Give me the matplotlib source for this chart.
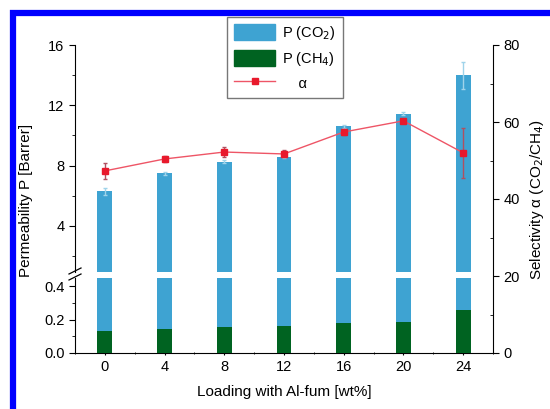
import matplotlib.pyplot as plt
import matplotlib.patches as mpatches
from matplotlib.lines import Line2D
from matplotlib.ticker import MultipleLocator

loading = [0, 4, 8, 12, 16, 20, 24]
p_co2 = [6.3, 7.5, 8.25, 8.6, 10.6, 11.45, 14.0]
p_co2_err = [0.25, 0.1, 0.1, 0.1, 0.1, 0.1, 0.9]
p_ch4 = [0.131, 0.143, 0.155, 0.161, 0.179, 0.185, 0.257]
alpha = [47.3, 50.4, 52.2, 51.7, 57.4, 60.3, 52.0]
alpha_err = [2.0, 0.8, 1.3, 0.9, 0.8, 0.6, 6.5]

blue = '#3ea3d2'
green = '#006321'
red = '#e8192c'

plt.rcParams['font.family'] = ['Liberation Sans', 'DejaVu Sans']
plt.rcParams['font.size'] = 10.5

fig = plt.figure(figsize=(5.5, 4.09), dpi=100)
W, H = 550.0, 409.0

def box(x0, y0, x1, y1):
    return [x0 / W, 1 - y1 / H, (x1 - x0) / W, (y1 - y0) / H]

ax_top = fig.add_axes(box(75, 45, 493, 272))
ax_bot = fig.add_axes(box(75, 278, 493, 353))
ax_r = fig.add_axes(box(75, 45, 493, 353), sharex=ax_bot)
ax_r.patch.set_alpha(0)

bw = 1.0
for ax in (ax_top, ax_bot):
    ax.bar(loading, p_co2, width=bw, color=blue, yerr=p_co2_err,
           error_kw=dict(ecolor='#9fd3ea', capsize=1.5, elinewidth=1), zorder=2)
    ax.bar(loading, p_ch4, width=bw, color=green, zorder=3)
    ax.set_xlim(-2, 26)
    for s in ('top', 'right'):
        ax.spines[s].set_visible(False)

ax_top.set_ylim(0.95, 16)
ax_top.yaxis.set_major_locator(MultipleLocator(4))
ax_top.yaxis.set_minor_locator(MultipleLocator(2))
ax_top.spines['bottom'].set_visible(False)
ax_top.tick_params(axis='x', bottom=False, labelbottom=False, which='both')

ax_bot.set_ylim(0, 0.45)
ax_bot.yaxis.set_minor_locator(MultipleLocator(0.1))
ax_bot.set_yticks([0.0, 0.2, 0.4])
ax_bot.set_yticklabels(['0.0', '0.2', '0.4'])
ax_bot.xaxis.set_major_locator(MultipleLocator(4))
ax_bot.xaxis.set_minor_locator(MultipleLocator(2))
ax_bot.tick_params(axis='x', which='both', direction='inout')
ax_bot.set_xlabel('Loading with Al-fum [wt%]', labelpad=8, fontsize=11)

for ax in (ax_top, ax_bot):
    ax.tick_params(axis='y', which='major', length=4)
    ax.tick_params(axis='y', which='minor', length=2.5)

# selectivity axis
ax_r.errorbar(loading, alpha, yerr=alpha_err, color='#ee5566', lw=1, marker='s',
              ms=5, mfc=red, mec=red, ecolor='#b05060', elinewidth=1,
              capsize=1.5, zorder=5)
ax_r.set_ylim(0, 80)
ax_r.yaxis.set_major_locator(MultipleLocator(20))
ax_r.yaxis.set_minor_locator(MultipleLocator(10))
ax_r.yaxis.tick_right()
ax_r.yaxis.set_label_position('right')
for s in ('top', 'left', 'bottom'):
    ax_r.spines[s].set_visible(False)
ax_r.tick_params(axis='x', which='both', bottom=False, labelbottom=False)
ax_r.tick_params(axis='y', which='major', length=4)
ax_r.tick_params(axis='y', which='minor', length=2.5, direction='in')
ax_r.set_ylabel('Selectivity α (CO$_2$/CH$_4$)', labelpad=6, fontsize=11)

fig.text(26 / W, 1 - 200 / H, 'Permeability P [Barrer]', rotation=90,
         ha='center', va='center', fontsize=11)

# break marks on left axis
for yy in (271, 277):
    fig.add_artist(Line2D([69 / W, 81 / W], [1 - (yy + 3) / H, 1 - (yy - 3) / H],
                          color='black', lw=0.9))

# legend
handles = [mpatches.Patch(color=blue, label='P (CO$_2$)'),
           mpatches.Patch(color=green, label='P (CH$_4$)'),
           Line2D([], [], color='#ee5566', lw=1, marker='s', ms=5, mfc=red,
                  mec=red, label='    α')]
fig.legend(handles=handles, loc='upper left', bbox_to_anchor=(227 / W, 1 - 17 / H),
           borderaxespad=0, frameon=True, fancybox=False, edgecolor='#555555',
           fontsize=10.5, handlelength=2.8, handleheight=1.3, borderpad=0.5,
           labelspacing=0.5, handletextpad=0.5)

# blue frame
fig.add_artist(mpatches.Rectangle((13 / W, -0.1), 1.2, 1 - 13 / H + 0.1,
                                  fill=False, edgecolor='#0000ff', lw=4.5,
                                  transform=fig.transFigure))

fig.savefig('out.png', dpi=100)
